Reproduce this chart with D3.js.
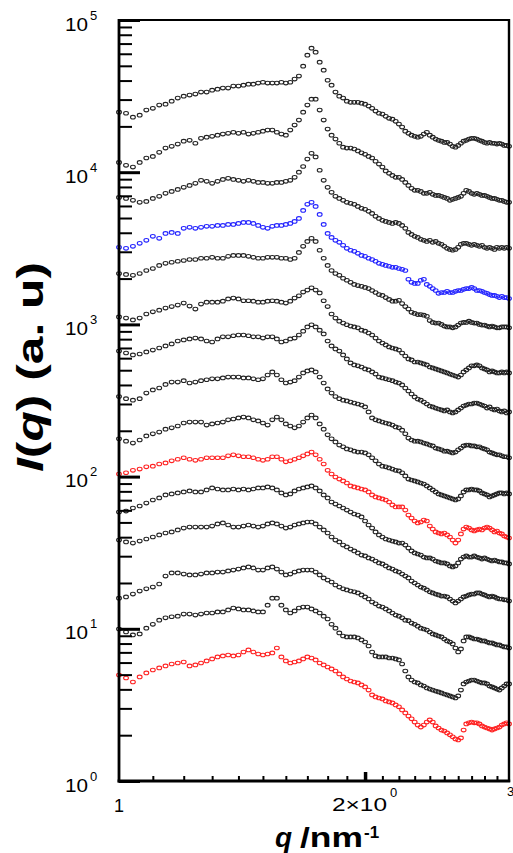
<!DOCTYPE html>
<html>
<head>
<meta charset="utf-8">
<script src="https://cdn.jsdelivr.net/npm/d3@7"></script>
<style>
  body { margin: 0; background: #fff; }
  svg { display: block; font-family: "Liberation Sans", Arial, sans-serif; }
</style>
</head>
<body>
<script>
// scattering vector q (nm^-1), shared by every curve
const q = [
  1.00, 1.02, 1.04, 1.06, 1.08, 1.10, 1.12, 1.14, 1.16, 1.18,
  1.20, 1.22, 1.24, 1.26, 1.28, 1.30, 1.32, 1.34, 1.36, 1.38,
  1.40, 1.42, 1.44, 1.46, 1.48, 1.50, 1.52, 1.54, 1.56, 1.58,
  1.60, 1.62, 1.64, 1.66, 1.68, 1.70, 1.72, 1.74, 1.76, 1.78,
  1.80, 1.82, 1.84, 1.86, 1.88, 1.90, 1.92, 1.94, 1.96, 1.98,
  2.00, 2.02, 2.04, 2.06, 2.08, 2.10, 2.12, 2.14, 2.16, 2.18,
  2.20, 2.22, 2.24, 2.26, 2.28, 2.30, 2.32, 2.34, 2.36, 2.38,
  2.40, 2.42, 2.44, 2.46, 2.48, 2.50, 2.52, 2.54, 2.56, 2.58,
  2.60, 2.62, 2.64, 2.66, 2.68, 2.70, 2.72, 2.74, 2.76, 2.78,
  2.80, 2.82, 2.84, 2.86, 2.88, 2.90, 2.92, 2.94, 2.96, 2.98,
  3.00
];

// intensities I(q), curves from top to bottom (vertically shifted)
const s1 = [
  24800, 24400, 23000, 23700, 25600, 26300, 27600, 28000, 29300, 30700,
  31600, 32100, 32600, 33600, 33600, 34600, 35100, 35700, 35700, 36800,
  36800, 37300, 37900, 37900, 38500, 39000, 38500, 38500, 38500, 39000,
  38500, 39000, 40900, 42800, 49700, 58700, 65300, 61500, 52800, 46800,
  40200, 37300, 33600, 31600, 30700, 29300, 28800, 28800, 28800, 28400,
  28000, 27200, 26300, 25200, 24400, 24100, 23300, 22600, 22300, 21600,
  20700, 19800, 18600, 18000, 17500, 17200, 17000, 17200, 17800, 18300,
  17500, 17000, 16500, 16200, 16000, 15700, 15700, 15300, 14800, 14600,
  15000, 15500, 16000, 16200, 16500, 16700, 16700, 16500, 16200, 16000,
  15700, 15500, 15700, 15500, 15500, 15300, 15500, 15300, 15000, 15000,
  14800
];
const s2 = [
  11600, 11100, 10800, 11600, 12400, 12700, 13500, 14400, 14800, 15300,
  16000, 16200, 15500, 16700, 17000, 17200, 17500, 17800, 18000, 18300,
  18000, 18300, 17800, 18000, 18300, 18600, 18900, 18900, 18300, 17800,
  17500, 18900, 20400, 22000, 24800, 27600, 30200, 30200, 25600, 22000,
  19200, 17500, 16500, 15500, 14600, 14400, 14400, 14200, 13800, 13400,
  13100, 12700, 12400, 11800, 11300, 10800, 10200, 9830, 9530, 9250,
  9250, 8970, 8570, 8190, 7830, 7600, 7600, 7480, 7260, 7260,
  7370, 7150, 7040, 7040, 6940, 6830, 6730, 6530, 6630, 6730,
  6830, 6940, 7260, 7600, 7480, 7260, 7150, 7260, 7150, 7040,
  7040, 6940, 6830, 6730, 6730, 6630, 6530, 6530, 6430, 6340,
  6340
];
const s3 = [
  6830, 6730, 6530, 6340, 6430, 6730, 6940, 7260, 7480, 7710,
  7950, 8190, 8450, 8840, 8710, 8450, 8710, 8970, 9110, 8970,
  8840, 8710, 8840, 8710, 8570, 8570, 8450, 8450, 8570, 8570,
  8710, 8840, 9250, 10000, 10900, 12200, 13300, 12600, 10300, 8840,
  7950, 7370, 6940, 6730, 6530, 6340, 6240, 6150, 5960, 5790,
  5700, 5530, 5360, 5130, 4970, 4830, 4750, 4680, 4610, 4680,
  4610, 4470, 4280, 4020, 3900, 3790, 3730, 3620, 3570, 3510,
  3570, 3460, 3510, 3410, 3360, 3260, 3160, 3110, 3070, 3110,
  3210, 3360, 3410, 3410, 3360, 3310, 3360, 3310, 3260, 3310,
  3210, 3160, 3210, 3160, 3110, 3210, 3160, 3210, 3160, 3210,
  3160
];
const s4 = [
  3210, 3160, 3260, 3410, 3570, 3790, 3680, 3960, 4020, 3960,
  4280, 4340, 4280, 4340, 4410, 4410, 4470, 4470, 4540, 4540,
  4610, 4680, 4680, 4610, 4470, 4340, 4280, 4410, 4470, 4470,
  4540, 4610, 4750, 4970, 5610, 6150, 6340, 5960, 5280, 4540,
  3960, 3730, 3570, 3460, 3310, 3160, 3070, 3020, 2930, 2840,
  2800, 2720, 2670, 2600, 2520, 2480, 2440, 2410, 2370, 2370,
  2330, 2300, 2260, 1980, 1890, 1860, 1860, 1950, 1980, 1830,
  1780, 1720, 1670, 1600, 1620, 1620, 1650, 1620, 1620, 1650,
  1670, 1670, 1700, 1720, 1720, 1750, 1720, 1670, 1670, 1650,
  1620, 1600, 1570, 1550, 1550, 1530, 1500, 1530, 1500, 1500,
  1480
];
const s5 = [
  2160, 2130, 2100, 2160, 2260, 2330, 2440, 2520, 2560, 2600,
  2630, 2670, 2670, 2720, 2720, 2760, 2720, 2720, 2800, 2840,
  2840, 2840, 2800, 2760, 2720, 2720, 2760, 2760, 2760, 2720,
  2720, 2670, 2720, 2970, 3260, 3510, 3680, 3510, 3070, 2720,
  2440, 2260, 2160, 2100, 2010, 1950, 1890, 1830, 1800, 1780,
  1750, 1720, 1670, 1620, 1570, 1550, 1500, 1460, 1420, 1420,
  1440, 1370, 1310, 1260, 1200, 1180, 1160, 1160, 1150, 1130,
  1060, 1030, 1020, 1020, 1000, 975, 963, 963, 949, 963,
  990, 1020, 1030, 1030, 1050, 1030, 1020, 1020, 1000, 990,
  990, 975, 963, 975, 963, 949, 949, 963, 963, 963,
  949
];
const s6 = [
  1120, 1100, 1070, 1100, 1170, 1210, 1240, 1280, 1310, 1340,
  1380, 1320, 1260, 1360, 1400, 1400, 1400, 1420, 1470, 1490,
  1470, 1430, 1430, 1420, 1400, 1400, 1420, 1430, 1420, 1400,
  1380, 1420, 1490, 1540, 1630, 1680, 1740, 1680, 1610, 1430,
  1310, 1170, 1100, 1050, 1020, 995, 975, 963, 949, 916,
  902, 878, 852, 813, 778, 755, 733, 711, 700, 690,
  678, 649, 620, 593, 584, 566, 566, 558, 550, 542,
  525, 518, 510, 502, 495, 487, 480, 472, 465, 458,
  451, 465, 487, 502, 518, 534, 534, 542, 534, 518,
  510, 502, 487, 495, 487, 480, 480, 487, 480, 487,
  480
];
const s7 = [
  668, 649, 630, 639, 659, 678, 700, 722, 744, 778,
  791, 803, 813, 803, 778, 766, 803, 829, 829, 842,
  852, 852, 842, 829, 829, 813, 829, 829, 803, 766,
  778, 803, 813, 852, 902, 963, 995, 963, 916, 866,
  778, 722, 690, 668, 630, 593, 558, 542, 534, 525,
  510, 502, 487, 472, 451, 445, 439, 433, 427, 418,
  412, 400, 382, 365, 349, 334, 323, 318, 309, 300,
  291, 287, 282, 278, 274, 270, 274, 266, 262, 266,
  274, 282, 291, 295, 300, 300, 304, 304, 300, 295,
  291, 282, 287, 278, 274, 278, 270, 266, 270, 262,
  266
];
const s8 = [
  336, 325, 318, 325, 354, 371, 382, 403, 418, 418,
  427, 412, 418, 427, 433, 439, 439, 445, 451, 451,
  451, 445, 445, 439, 433, 439, 465, 487, 465, 433,
  412, 418, 427, 451, 480, 495, 502, 487, 451, 412,
  377, 354, 336, 325, 318, 314, 309, 304, 300, 295,
  287, 266, 243, 236, 232, 228, 225, 222, 218, 212,
  209, 202, 191, 179, 174, 171, 171, 169, 166, 164,
  161, 159, 154, 152, 150, 147, 147, 145, 143, 145,
  150, 154, 159, 161, 161, 159, 159, 157, 157, 154,
  152, 150, 145, 143, 141, 139, 139, 137, 135, 135,
  133
];
const s9 = [
  177, 171, 166, 174, 185, 191, 196, 205, 209, 215,
  225, 228, 228, 228, 218, 222, 225, 228, 236, 239,
  243, 246, 243, 236, 232, 225, 218, 236, 246, 236,
  222, 215, 209, 215, 228, 243, 254, 243, 222, 205,
  188, 177, 169, 161, 157, 152, 150, 147, 145, 145,
  143, 139, 133, 127, 121, 117, 116, 114, 112, 110,
  109, 106, 101, 96.3, 95.0, 93.6, 92.2, 90.8, 89.4, 86.8,
  84.2, 81.7, 79.3, 76.9, 75.8, 74.6, 73.5, 72.4, 71.3, 70.2,
  71.3, 74.6, 79.3, 81.7, 81.7, 82.9, 81.7, 81.7, 80.5, 78.1,
  76.9, 75.8, 73.5, 74.6, 75.8, 76.9, 78.1, 78.1, 76.9, 78.1,
  76.9
];
const s10 = [
  104, 106, 110, 112, 116, 117, 121, 123, 127, 130,
  133, 130, 128, 130, 133, 133, 133, 133, 137, 139,
  137, 135, 135, 133, 130, 128, 130, 135, 135, 130,
  125, 127, 130, 133, 137, 141, 145, 139, 130, 121,
  110, 104, 99.4, 96.3, 93.6, 90.8, 86.8, 85.5, 84.2, 82.9,
  81.7, 79.3, 75.8, 73.5, 72.4, 71.3, 70.2, 68.1, 65.1, 63.2,
  63.2, 63.2, 60.3, 55.9, 53.4, 51.1, 49.6, 50.3, 51.8, 51.1,
  47.3, 45.2, 43.3, 42.6, 42.0, 42.6, 41.4, 40.1, 38.3, 36.6,
  38.3, 42.0, 45.2, 46.6, 45.9, 44.6, 43.9, 44.6, 45.2, 44.6,
  45.9, 46.6, 45.9, 44.6, 43.3, 43.9, 42.6, 42.0, 40.7, 40.1,
  39.5
];
const s11 = [
  58.5, 59.4, 62.2, 64.1, 67.0, 70.2, 72.4, 75.8, 76.9, 78.1,
  79.3, 80.5, 79.3, 79.3, 81.7, 84.2, 82.9, 81.7, 81.7, 82.9,
  81.7, 82.9, 81.7, 82.9, 84.2, 84.2, 85.5, 84.2, 81.7, 78.1,
  75.8, 76.9, 80.5, 82.9, 84.2, 85.5, 86.8, 84.2, 80.5, 75.8,
  72.4, 68.1, 66.0, 64.1, 62.2, 60.3, 58.5, 56.8, 55.9, 54.3,
  51.1, 48.1, 45.9, 43.3, 41.4, 40.1, 38.9, 38.3, 37.7, 37.2,
  36.6, 36.6, 35.5, 33.9, 32.5, 31.5, 31.0, 30.5, 29.6, 29.2,
  29.2, 28.7, 27.9, 27.5, 27.1, 27.1, 26.7, 25.9, 25.5, 25.9,
  27.1, 28.7, 29.6, 30.1, 29.6, 29.6, 30.1, 29.6, 29.2, 28.7,
  29.2, 28.7, 28.3, 27.9, 28.3, 27.9, 27.5, 27.5, 27.1, 27.1,
  26.7
];
const s12 = [
  38.3, 37.2, 36.6, 37.7, 38.9, 40.1, 41.4, 42.6, 43.3, 44.6,
  45.9, 46.6, 46.6, 46.6, 46.6, 47.3, 48.9, 49.6, 48.1, 46.6,
  46.6, 47.3, 48.1, 47.3, 46.6, 47.3, 48.9, 49.6, 48.9, 47.3,
  45.9, 46.6, 48.1, 48.9, 49.6, 50.3, 50.3, 48.9, 46.6, 44.6,
  42.6, 40.1, 38.3, 37.2, 35.5, 34.5, 33.4, 32.5, 31.5, 30.5,
  30.1, 29.2, 28.7, 27.9, 27.1, 26.7, 25.9, 25.1, 24.7, 24.0,
  23.6, 22.9, 22.2, 21.6, 20.6, 20.0, 19.4, 18.8, 18.5, 18.0,
  17.5, 17.2, 16.9, 16.7, 16.4, 16.4, 16.2, 15.7, 15.2, 14.8,
  15.2, 15.7, 16.2, 16.4, 16.7, 16.9, 16.9, 17.2, 17.2, 16.9,
  16.7, 16.4, 16.2, 16.4, 16.2, 15.9, 15.7, 15.7, 15.5, 15.5,
  15.2
];
const s13 = [
  15.9, 16.2, 16.9, 17.7, 18.3, 18.8, 19.7, 22.2, 23.3, 23.3,
  22.9, 22.6, 22.6, 22.9, 23.3, 23.3, 23.6, 23.6, 24.0, 24.3,
  24.7, 25.1, 25.5, 25.1, 24.3, 24.3, 25.1, 25.5, 24.7, 23.6,
  22.6, 22.9, 23.6, 24.0, 24.3, 24.3, 24.3, 23.6, 22.6, 21.6,
  20.9, 20.3, 19.4, 18.8, 18.3, 18.0, 17.7, 17.5, 17.2, 16.7,
  16.2, 15.7, 15.0, 14.6, 14.1, 13.9, 13.5, 13.1, 12.7, 12.3,
  12.1, 11.8, 11.4, 11.3, 10.9, 10.7, 10.4, 10.1, 9.97, 9.82,
  9.53, 9.25, 9.11, 8.97, 8.84, 8.57, 8.32, 8.19, 7.95, 7.48,
  7.04, 7.37, 8.32, 8.84, 8.84, 8.71, 8.57, 8.57, 8.45, 8.32,
  8.32, 8.19, 8.07, 8.07, 7.95, 7.83, 7.83, 7.71, 7.60, 7.60,
  7.48
];
const s14 = [
  9.97, 9.53, 9.11, 9.25, 10.1, 10.7, 11.4, 11.8, 12.0, 12.1,
  12.5, 12.5, 12.3, 12.5, 12.7, 12.7, 12.9, 12.9, 13.3, 13.7,
  13.5, 13.3, 13.3, 13.1, 12.9, 12.9, 14.3, 15.9, 15.9, 14.3,
  13.3, 12.7, 13.1, 13.7, 13.9, 13.9, 13.5, 13.1, 12.7, 12.1,
  11.6, 10.7, 10.1, 9.39, 8.97, 8.84, 8.84, 8.84, 8.71, 8.45,
  8.19, 7.71, 7.04, 6.63, 6.53, 6.53, 6.53, 6.43, 6.43, 6.34,
  6.24, 5.87, 5.28, 4.83, 4.61, 4.47, 4.41, 4.28, 4.21, 4.09,
  4.02, 3.96, 3.90, 3.85, 3.79, 3.73, 3.68, 3.62, 3.57, 3.51,
  3.62, 3.96, 4.34, 4.47, 4.54, 4.61, 4.61, 4.54, 4.47, 4.41,
  4.41, 4.34, 4.21, 4.15, 4.09, 4.02, 3.96, 4.09, 4.21, 4.34,
  4.34
];
const s15 = [
  4.97, 4.75, 4.47, 4.83, 5.13, 5.36, 5.53, 5.70, 5.87, 5.96,
  6.05, 5.70, 5.79, 5.96, 6.15, 6.34, 6.53, 6.63, 6.73, 6.63,
  6.73, 7.04, 7.26, 7.04, 6.83, 6.73, 6.83, 6.94, 7.48, 6.53,
  6.15, 5.96, 6.05, 6.15, 6.34, 6.53, 6.43, 6.24, 5.96, 5.79,
  5.61, 5.45, 5.28, 5.05, 4.83, 4.68, 4.54, 4.47, 4.41, 4.28,
  4.15, 3.96, 3.68, 3.57, 3.51, 3.46, 3.36, 3.31, 3.26, 3.16,
  3.07, 2.93, 2.80, 2.67, 2.56, 2.44, 2.33, 2.26, 2.33, 2.44,
  2.52, 2.44, 2.30, 2.23, 2.16, 2.13, 2.07, 2.01, 1.95, 1.89,
  1.86, 1.92, 2.16, 2.37, 2.41, 2.44, 2.41, 2.41, 2.37, 2.30,
  2.26, 2.23, 2.20, 2.16, 2.20, 2.23, 2.26, 2.33, 2.37, 2.41,
  2.37
];

// axis tick labels
const yMajorTicks = [1, 10, 100, 1000, 10000, 100000];
const yTickExponents = ['0', '1', '2', '3', '4', '5'];

const black = '#222', blue = '#2323ff', red = '#ff2222';
const curves = [
  { values: s1, color: black }, { values: s2, color: black }, { values: s3, color: black },
  { values: s4, color: blue }, { values: s5, color: black }, { values: s6, color: black },
  { values: s7, color: black }, { values: s8, color: black }, { values: s9, color: black },
  { values: s10, color: red }, { values: s11, color: black }, { values: s12, color: black },
  { values: s13, color: black }, { values: s14, color: black }, { values: s15, color: red }
];

const width = 513, height = 853;
const margin = { top: 20, right: 4, bottom: 72, left: 119 };

const svg = d3.select('body').append('svg')
  .attr('width', width)
  .attr('height', height);

const x = d3.scaleLog().domain([1, 3]).range([margin.left, width - margin.right]);
const y = d3.scaleLog().domain([1, 1e5]).range([height - margin.bottom, margin.top]);

// data points: small open (slightly wide) circles
curves.forEach((c) => {
  svg.append('g')
    .selectAll('ellipse')
    .data(q.map((d, i) => [d, c.values[i]]))
    .join('ellipse')
    .attr('cx', (d) => x(d[0]))
    .attr('cy', (d) => y(d[1]))
    .attr('rx', 2.4)
    .attr('ry', 1.8)
    .attr('fill', 'none')
    .attr('stroke', c.color)
    .attr('stroke-width', 1.1);
});

// y ticks, drawn inward from the left axis
const isDecade = (v) => Math.abs(Math.log10(v) - Math.round(Math.log10(v))) < 1e-9;
const yMinor = y.ticks().filter((v) => !isDecade(v));

svg.append('g')
  .attr('transform', `translate(${margin.left},0)`)
  .call(d3.axisRight(y).tickValues(yMinor).tickSize(13).tickFormat(''))
  .call((g) => g.select('.domain').remove())
  .call((g) => g.selectAll('line').attr('stroke', '#000').attr('stroke-width', 2));

svg.append('g')
  .attr('transform', `translate(${margin.left},0)`)
  .call(d3.axisRight(y).tickValues(yMajorTicks).tickSize(21).tickFormat(''))
  .call((g) => g.select('.domain').remove())
  .call((g) => g.selectAll('line').attr('stroke', '#000').attr('stroke-width', 3));

// x ticks, drawn upward from the bottom axis
const xMinor = x.ticks(20).filter((v) => Math.abs(v - Math.round(v)) > 1e-6);
const xBase = height - margin.bottom;

svg.append('g')
  .attr('transform', `translate(0,${xBase})`)
  .call(d3.axisTop(x).tickValues(xMinor).tickSize(5).tickFormat(''))
  .call((g) => g.select('.domain').remove())
  .call((g) => g.selectAll('line').attr('stroke', '#000').attr('stroke-width', 2));

svg.append('g')
  .attr('transform', `translate(0,${xBase})`)
  .call(d3.axisTop(x).tickValues([2]).tickSize(9).tickFormat(''))
  .call((g) => g.select('.domain').remove())
  .call((g) => g.selectAll('line').attr('stroke', '#000').attr('stroke-width', 3.5));

// frame
const x0 = x.range()[0], x1 = x.range()[1];
const y0 = y.range()[0], y1 = y.range()[1];
svg.append('line').attr('x1', x0).attr('x2', x1).attr('y1', y1).attr('y2', y1)
  .attr('stroke', '#000').attr('stroke-width', 2);
svg.append('line').attr('x1', x1).attr('x2', x1).attr('y1', y1 - 1).attr('y2', y0 + 1)
  .attr('stroke', '#000').attr('stroke-width', 2.4);
svg.append('line').attr('x1', x0).attr('x2', x0).attr('y1', y1 - 1).attr('y2', y0 + 1.5)
  .attr('stroke', '#000').attr('stroke-width', 2.8);
svg.append('line').attr('x1', x0 - 1.4).attr('x2', x1 + 1.2).attr('y1', y0).attr('y2', y0)
  .attr('stroke', '#000').attr('stroke-width', 2.8);

// y tick labels: 10^n
const yLab = svg.append('g').attr('fill', '#000');
yMajorTicks.forEach((v, i) => {
  const t = yLab.append('text').attr('x', 65).attr('y', y(v) + 10.5);
  t.append('tspan').attr('font-size', 18).attr('textLength', 23)
    .attr('lengthAdjust', 'spacingAndGlyphs').text('10');
  yLab.append('text').attr('x', 90).attr('y', y(v) - 0.5)
    .attr('font-size', 13).text(yTickExponents[i]);
});

// x tick labels
svg.append('text').attr('x', x(1)).attr('y', 812).attr('text-anchor', 'middle')
  .attr('font-size', 18).text('1');
svg.append('text').attr('x', 332).attr('y', 811).attr('font-size', 18)
  .attr('textLength', 55).attr('lengthAdjust', 'spacingAndGlyphs').text('2\u00d710');
svg.append('text').attr('x', 390).attr('y', 797).attr('font-size', 13).text('0');
svg.append('text').attr('x', 507).attr('y', 796).attr('font-size', 13).text('3');

// axis titles
svg.append('text')
  .attr('transform', 'translate(43,367) rotate(-90)')
  .attr('text-anchor', 'middle')
  .attr('font-size', 36)
  .attr('font-weight', 'bold')
  .attr('textLength', 210)
  .attr('lengthAdjust', 'spacingAndGlyphs')
  .call((t) => {
    t.append('tspan').attr('font-style', 'italic').text('I');
    t.append('tspan').text('(');
    t.append('tspan').attr('font-style', 'italic').text('q');
    t.append('tspan').text(') (a. u)');
  });

svg.append('text').attr('x', 275).attr('y', 847).attr('font-size', 28)
  .attr('font-weight', 'bold').attr('font-style', 'italic').text('q');
svg.append('text').attr('x', 300).attr('y', 847).attr('font-size', 28)
  .attr('font-weight', 'bold').attr('textLength', 63)
  .attr('lengthAdjust', 'spacingAndGlyphs').text('/nm');
svg.append('text').attr('x', 364).attr('y', 838).attr('font-size', 17)
  .attr('font-weight', 'bold').text('-1');
</script>
</body>
</html>
